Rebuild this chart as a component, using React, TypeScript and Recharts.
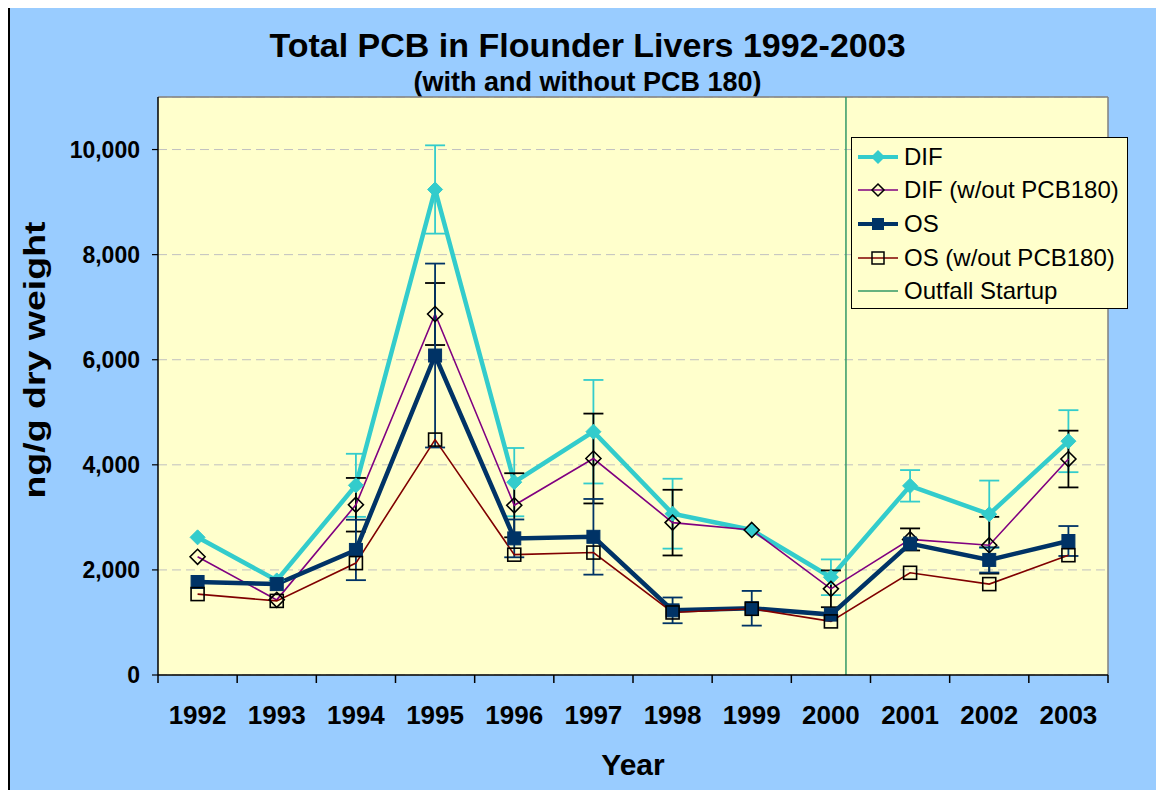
import {
  ComposedChart, Line, XAxis, YAxis, CartesianGrid, ErrorBar, ReferenceLine, Legend
} from 'recharts'

const YEARS = ['1992', '1993', '1994', '1995', '1996', '1997', '1998', '1999', '2000', '2001', '2002', '2003']

// Total PCB, ng/g dry weight
const DIF = [2620, 1800, 3610, 9240, 3670, 4630, 3070, 2760, 1860, 3600, 3060, 4450]
const DIF_ERR = [null, null, 600, 840, 650, 985, 665, null, 340, 300, 640, 590]
const DIF_NO180 = [2250, 1430, 3240, 6870, 3230, 4120, 2900, 2760, 1640, 2580, 2470, 4110]
const DIF_NO180_ERR = [null, null, 510, 590, 610, 855, 625, null, 350, 210, 540, 540]
const OS = [1770, 1730, 2380, 6080, 2600, 2630, 1230, 1270, 1150, 2500, 2190, 2550]
const OS_ERR = [null, null, 575, 1750, 360, 720, 245, 330, null, null, 240, 285]
const OS_NO180 = [1540, 1410, 2130, 4480, 2290, 2330, 1190, 1260, 1020, 1945, 1730, 2280]

const Y_TICKS = [0, 2000, 4000, 6000, 8000, 10000]
const OUTFALL_X = 8.19 // Sept 2000, in category units

const data = YEARS.map((year, i) => ({
  i, year,
  dif: DIF[i], difErr: DIF_ERR[i],
  difNo: DIF_NO180[i], difNoErr: DIF_NO180_ERR[i],
  os: OS[i], osErr: OS_ERR[i],
  osNo: OS_NO180[i],
}))

const C = {
  DIF: '#33CCCC',
  DIF_NO: '#800080',
  OS: '#003366',
  OS_NO: '#800000',
  OUTFALL: '#339966',
  BG: '#99CCFF',
  PLOT: '#FFFFCC',
}

const FONT = '"Liberation Sans", Arial, sans-serif'
const W = 1154, H = 782
const M = { top: 89, right: 56, left: 48, bottom: 55 }
const Y_W = 100
const PLOT_W = W - M.left - Y_W - M.right
const HALF = PLOT_W / YEARS.length / 2

const FilledDiamond = (p: any) => {
  const { cx, cy } = p
  if (cx == null || cy == null) return <g key={p.index} />
  const s = 7.5
  return <path key={p.index} d={`M${cx},${cy - s}L${cx + s},${cy}L${cx},${cy + s}L${cx - s},${cy}Z`} fill={C.DIF} stroke={C.DIF} />
}
const HollowDiamond = (p: any) => {
  const { cx, cy } = p
  if (cx == null || cy == null) return <g key={p.index} />
  const s = 7.5
  return <path key={p.index} d={`M${cx},${cy - s}L${cx + s},${cy}L${cx},${cy + s}L${cx - s},${cy}Z`} fill="none" stroke="#000" strokeWidth={1.6} />
}
const FilledSquare = (p: any) => {
  const { cx, cy } = p
  if (cx == null || cy == null) return <g key={p.index} />
  return <rect key={p.index} x={cx - 6.5} y={cy - 6.5} width={13} height={13} fill={C.OS} stroke={C.OS} />
}
const HollowSquare = (p: any) => {
  const { cx, cy } = p
  if (cx == null || cy == null) return <g key={p.index} />
  return <rect key={p.index} x={cx - 6.5} y={cy - 6.5} width={13} height={13} fill="none" stroke="#000" strokeWidth={1.6} />
}

// category boundaries carry the tick marks, labels sit at band centres
const XTick = (p: any) => {
  const { x, y, payload } = p
  const idx = payload.value + 0.5
  if (idx >= YEARS.length) return <g />
  return (
    <text x={x + HALF} y={y + 39} textAnchor="middle" fontFamily={FONT} fontWeight="bold" fontSize={26} fill="#000">
      {YEARS[idx]}
    </text>
  )
}

const LEGEND = [
  { name: 'DIF', color: C.DIF, w: 4, mark: 'fd' },
  { name: 'DIF (w/out PCB180)', color: C.DIF_NO, w: 1.5, mark: 'hd' },
  { name: 'OS', color: C.OS, w: 4, mark: 'fs' },
  { name: 'OS (w/out PCB180)', color: C.OS_NO, w: 1.5, mark: 'hs' },
  { name: 'Outfall Startup', color: C.OUTFALL, w: 1.5, mark: '' },
]

const renderLegend = () => (
  <div style={{ width: 275, height: 168, border: '1px solid #000', background: C.PLOT, paddingTop: 2, boxSizing: 'content-box' }}>
    {LEGEND.map(l => (
      <div key={l.name} style={{ height: 33.6, display: 'flex', alignItems: 'center' }}>
        <svg width={50} height={20} style={{ marginLeft: 5 }}>
          <line x1={1} y1={10} x2={41} y2={10} stroke={l.color} strokeWidth={l.w} />
          {l.mark === 'fd' && <path d="M21,3L28,10L21,17L14,10Z" fill={C.DIF} />}
          {l.mark === 'hd' && <path d="M21,4L27,10L21,16L15,10Z" fill="none" stroke="#000" strokeWidth={1.5} />}
          {l.mark === 'fs' && <rect x={15} y={4} width={12} height={12} fill={C.OS} />}
          {l.mark === 'hs' && <rect x={15} y={4} width={12} height={12} fill="none" stroke="#000" strokeWidth={1.5} />}
        </svg>
        <span style={{ fontFamily: FONT, fontSize: 24, color: '#000', marginLeft: -3 }}>{l.name}</span>
      </div>
    ))}
  </div>
)

export default function App() {
  return (
    <div style={{
      marginTop: -2, width: W + 2, height: H + 2, boxSizing: 'border-box',
      borderLeft: '2px solid #000', borderTop: '2px solid #000',
      background: C.BG, position: 'relative', overflow: 'hidden', fontFamily: FONT,
    }}>
      <div style={{ position: 'absolute', left: 0, width: W + 1, top: 20, textAlign: 'center', fontSize: 34, lineHeight: '34px', fontWeight: 'bold' }}>
        Total PCB in Flounder Livers 1992-2003
      </div>
      <div style={{ position: 'absolute', left: 0, width: W + 1, top: 61, textAlign: 'center', fontSize: 27, lineHeight: '27px', fontWeight: 'bold' }}>
        (with and without PCB 180)
      </div>
      <div style={{
        position: 'absolute', left: 25, top: 352, transform: 'translate(-50%, -50%) rotate(-90deg) scaleX(1.25)',
        whiteSpace: 'nowrap', fontSize: 30, fontWeight: 'bold',
      }}>
        ng/g dry weight
      </div>
      <div style={{
        position: 'absolute', left: 623, top: 757, transform: 'translate(-50%, -50%)',
        whiteSpace: 'nowrap', fontSize: 30, fontWeight: 'bold',
      }}>
        Year
      </div>
      <ComposedChart width={W} height={H} data={data} margin={M}>
        <CartesianGrid horizontal vertical={false} fill={C.PLOT} stroke="#C0C0C0" strokeDasharray="9 5" />
        <XAxis type="number" dataKey="i" domain={[-0.5, 11.5]}
          ticks={[-0.5, 0.5, 1.5, 2.5, 3.5, 4.5, 5.5, 6.5, 7.5, 8.5, 9.5, 10.5, 11.5]}
          tick={XTick} tickSize={8} height={60} interval={0}
          axisLine={{ stroke: '#000', strokeWidth: 1.5 }} tickLine={{ stroke: '#000', strokeWidth: 1.5 }} />
        <YAxis type="number" domain={[0, 11000]} ticks={Y_TICKS} width={Y_W}
          tickFormatter={(v: number) => v.toLocaleString('en-US')}
          tick={{ fontSize: 23, fontWeight: 'bold', fill: '#000', fontFamily: FONT }}
          tickSize={6} tickMargin={12}
          axisLine={{ stroke: '#000', strokeWidth: 1.5 }} tickLine={{ stroke: '#000', strokeWidth: 1.2 }} />
        <ReferenceLine y={11000} stroke="#808080" strokeWidth={1.5} />
        <ReferenceLine x={11.5} stroke="#808080" strokeWidth={1.5} />
        <ReferenceLine x={OUTFALL_X} stroke={C.OUTFALL} strokeWidth={1.5} />
        <Legend layout="vertical" align="center" verticalAlign="middle" content={renderLegend}
          wrapperStyle={{ top: 129, left: 841, width: 277, height: 170 }} />

        <Line dataKey="dif" name="DIF" stroke={C.DIF} strokeWidth={4.5} dot={FilledDiamond} activeDot={false} isAnimationActive={false}>
          <ErrorBar dataKey="difErr" width={10} stroke={C.DIF} strokeWidth={1.8} direction="y" />
        </Line>
        <Line dataKey="difNo" name="DIF (w/out PCB180)" stroke={C.DIF_NO} strokeWidth={1.6} dot={HollowDiamond} activeDot={false} isAnimationActive={false}>
          <ErrorBar dataKey="difNoErr" width={10} stroke="#000" strokeWidth={1.8} direction="y" />
        </Line>
        <Line dataKey="os" name="OS" stroke={C.OS} strokeWidth={4.5} dot={FilledSquare} activeDot={false} isAnimationActive={false}>
          <ErrorBar dataKey="osErr" width={10} stroke={C.OS} strokeWidth={1.8} direction="y" />
        </Line>
        <Line dataKey="osNo" name="OS (w/out PCB180)" stroke={C.OS_NO} strokeWidth={1.6} dot={HollowSquare} activeDot={false} isAnimationActive={false} />
      </ComposedChart>
    </div>
  )
}
